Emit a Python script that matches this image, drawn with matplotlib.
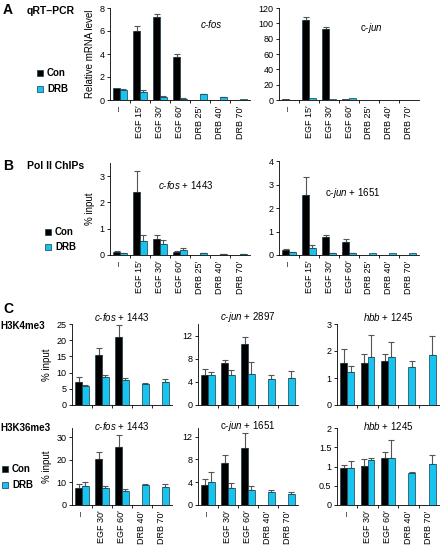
import numpy as np
import matplotlib
matplotlib.use("Agg")
import matplotlib.pyplot as plt
from matplotlib.patches import Rectangle

plt.rcParams["font.family"] = ["Liberation Sans", "DejaVu Sans"]
plt.rcParams["mathtext.fontset"] = "custom"
plt.rcParams["mathtext.it"] = "Liberation Sans:italic"
plt.rcParams["mathtext.rm"] = "Liberation Sans"
plt.rcParams["font.size"] = 6.5

# Data
mrna_labels = ["\u2013", "EGF 15\u2032", "EGF 30\u2032", "EGF 60\u2032", "DRB 25\u2032", "DRB 40\u2032", "DRB 70\u2032"]
hist_labels = ["\u2013", "EGF 30\u2032", "EGF 60\u2032", "DRB 40\u2032", "DRB 70\u2032"]

# A: qRT-PCR
fos_mrna_con = [1.05, 6.0, 7.25, 3.75, None, None, None]
fos_mrna_con_err = [0.0, 0.45, 0.2, 0.25, 0, 0, 0]
fos_mrna_drb = [0.85, 0.7, 0.3, 0.12, 0.5, 0.25, 0.08]
fos_mrna_drb_err = [0.15, 0.15, 0.03, 0.02, 0.05, 0.02, 0.0]

jun_mrna_con = [1.0, 105, 93, 1.0, None, None, None]
jun_mrna_con_err = [0, 3, 2, 0, 0, 0, 0]
jun_mrna_drb = [0.6, 2.0, 1.0, 2.0, 0.3, 0.3, 0.3]
jun_mrna_drb_err = [0, 0, 0, 0, 0, 0, 0]

# B: Pol II ChIPs
fos_pol_con = [0.13, 2.4, 0.6, 0.13, None, None, None]
fos_pol_con_err = [0.02, 0.8, 0.15, 0.02, 0, 0, 0]
fos_pol_drb = [0.08, 0.55, 0.4, 0.2, 0.06, 0.04, 0.04]
fos_pol_drb_err = [0.01, 0.2, 0.17, 0.06, 0.01, 0.01, 0.01]

jun_pol_con = [0.2, 2.55, 0.75, 0.57, None, None, None]
jun_pol_con_err = [0.05, 0.75, 0.12, 0.1, 0, 0, 0]
jun_pol_drb = [0.12, 0.3, 0.08, 0.08, 0.07, 0.08, 0.08]
jun_pol_drb_err = [0.01, 0.13, 0.01, 0.01, 0, 0, 0]

# C: H3K4me3
fos_k4_con = [7.0, 15.5, 21.0, None, None]
fos_k4_con_err = [1.5, 2.0, 3.8, 0, 0]
fos_k4_drb = [6.0, 8.5, 7.7, 6.5, 7.0]
fos_k4_drb_err = [0.2, 0.8, 0.6, 0.2, 1.0]

jun_k4_con = [5.1, 7.3, 10.6, None, None]
jun_k4_con_err = [1.2, 0.4, 1.2, 0, 0]
jun_k4_drb = [5.2, 5.1, 5.3, 4.5, 4.7]
jun_k4_drb_err = [0.5, 1.0, 2.2, 0.6, 1.1]

hbb_k4_con = [1.54, 1.54, 1.63, None, None]
hbb_k4_con_err = [0.52, 0.35, 0.27, 0, 0]
hbb_k4_drb = [1.23, 1.79, 1.77, 1.42, 1.85]
hbb_k4_drb_err = [0.23, 0.81, 0.57, 0.22, 0.72]

# C: H3K36me3
fos_k36_con = [7.6, 20.2, 25.4, None, None]
fos_k36_con_err = [1.5, 3.3, 5.3, 0, 0]
fos_k36_drb = [8.4, 7.4, 6.2, 8.8, 7.9]
fos_k36_drb_err = [1.7, 1.0, 1.0, 0.3, 1.5]

jun_k36_con = [3.5, 7.4, 10.0, None, None]
jun_k36_con_err = [1.1, 1.3, 2.6, 0, 0]
jun_k36_drb = [4.1, 2.9, 2.6, 2.3, 1.9]
jun_k36_drb_err = [1.7, 1.0, 0.8, 0.4, 0.4]

hbb_k36_con = [0.96, 1.02, 1.23, None, None]
hbb_k36_con_err = [0.07, 0.17, 0.14, 0, 0]
hbb_k36_drb = [0.97, 1.16, 1.23, 0.83, 1.06]
hbb_k36_drb_err = [0.17, 0.05, 0.46, 0.04, 0.24]

CON_COLOR = "#000000"
DRB_COLOR = "#17C4EF"
EDGE = "#1a3a48"
ERR = "#555555"

W, H = 443, 546


def add_ax(fig, x0, x1, y0, y1):
    """Axes from pixel box (x0..x1, top y0..bottom y1)."""
    return fig.add_axes([x0 / W, 1 - y1 / H, (x1 - x0) / W, (y1 - y0) / H])


def draw_bars(ax, labels, con, con_err, drb, drb_err, ylim, yticks, show_labels=True,
              fmt=None):
    n = len(labels)
    x = np.arange(n)
    bw = 0.33
    for vals, errs, off, color in [(con, con_err, -bw / 2, CON_COLOR),
                                   (drb, drb_err, bw / 2, DRB_COLOR)]:
        idx = [i for i, v in enumerate(vals) if v is not None]
        xs = x[idx] + off
        hs = np.array([vals[i] for i in idx])
        es = np.array([errs[i] for i in idx])
        ax.bar(xs, hs, width=bw, color=color, edgecolor=EDGE, linewidth=0.5, zorder=2)
        m = es > 0
        if m.any():
            ax.errorbar(xs[m], hs[m], yerr=[np.zeros(m.sum()), es[m]], fmt="none",
                        ecolor=ERR, elinewidth=0.8, capsize=2, capthick=0.8, zorder=1)
    ax.set_xlim(-0.5, n - 0.5)
    ax.set_ylim(*ylim)
    ax.set_yticks(yticks)
    if fmt:
        ax.set_yticklabels([fmt % t for t in yticks])
    ax.spines["top"].set_visible(False)
    ax.spines["right"].set_visible(False)
    ax.spines["left"].set_linewidth(0.6)
    ax.spines["bottom"].set_linewidth(0.6)
    ax.set_xticks(x)
    ax.set_xticks(np.arange(n - 1) + 0.5, minor=True)
    ax.tick_params(axis="x", which="major", length=0, pad=4)
    ax.tick_params(axis="x", which="minor", length=2.5, width=0.6)
    ax.tick_params(axis="y", length=2.5, width=0.6, pad=1.5, labelsize=6.5)
    if show_labels:
        ax.set_xticklabels(labels, rotation=90, fontsize=6.5)
    else:
        ax.set_xticklabels([])


def legend(fig, x, y, dy=16):
    for i, (lab, col) in enumerate([("Con", CON_COLOR), ("DRB", DRB_COLOR)]):
        yy = y + i * dy
        fig.add_artist(Rectangle(((x - 3) / W, 1 - (yy + 3) / H), 6 / W, 6 / H,
                                 transform=fig.transFigure, facecolor=col,
                                 edgecolor=EDGE, linewidth=0.5))
        fig.text((x + 7) / W, 1 - yy / H, lab, fontsize=7, fontweight="bold",
                 va="center", ha="left")


def main():
    fig = plt.figure(figsize=(W / 100, H / 100), dpi=100)

    # Panel A
    fig.text(3 / W, 1 - 10 / H, "A", fontsize=10, fontweight="bold", va="center")
    fig.text(27 / W, 1 - 11 / H, "qRT\u2013PCR", fontsize=7.5, fontweight="bold", va="center")
    ax = add_ax(fig, 110, 250, 8, 100)
    draw_bars(ax, mrna_labels, fos_mrna_con, fos_mrna_con_err, fos_mrna_drb, fos_mrna_drb_err,
              (0, 8), [0, 2, 4, 6, 8])
    ax.set_ylabel("Relative mRNA level", fontsize=7, labelpad=3)
    ax.text(0.72, 0.82, "c-fos", transform=ax.transAxes,
            fontsize=7, ha="center", va="center", fontstyle="italic")
    ax = add_ax(fig, 279, 419, 8, 100)
    draw_bars(ax, mrna_labels, jun_mrna_con, jun_mrna_con_err, jun_mrna_drb, jun_mrna_drb_err,
              (0, 120), [0, 20, 40, 60, 80, 100, 120])
    ax.text(0.66, 0.78, r"c-$\mathit{jun}$", transform=ax.transAxes,
            fontsize=7, ha="center", va="center")
    legend(fig, 40, 73)

    # Panel B
    fig.text(3 / W, 1 - 166 / H, "B", fontsize=10, fontweight="bold", va="center")
    fig.text(27 / W, 1 - 166 / H, "Pol II ChIPs", fontsize=7.5, fontweight="bold", va="center")
    ax = add_ax(fig, 110, 250, 163, 255)
    draw_bars(ax, mrna_labels, fos_pol_con, fos_pol_con_err, fos_pol_drb, fos_pol_drb_err,
              (0, 3.5), [0, 1, 2, 3])
    ax.set_ylabel("% input", fontsize=7, labelpad=3)
    ax.text(0.54, 0.76, r"$\mathit{c}$-$\mathit{fos}$ + 1443", transform=ax.transAxes,
            fontsize=7, ha="center", va="center")
    ax = add_ax(fig, 279, 419, 161, 255)
    draw_bars(ax, mrna_labels, jun_pol_con, jun_pol_con_err, jun_pol_drb, jun_pol_drb_err,
              (0, 4), [0, 1, 2, 3, 4])
    ax.text(0.53, 0.66, r"c-$\mathit{jun}$ + 1651", transform=ax.transAxes,
            fontsize=7, ha="center", va="center")
    legend(fig, 48, 232, dy=15)

    # Panel C
    fig.text(3 / W, 1 - 309 / H, "C", fontsize=10, fontweight="bold", va="center")
    fig.text(0 / W, 1 - 326 / H, "H3K4me3", fontsize=7, fontweight="bold", va="center")
    fig.text(0 / W, 1 - 428 / H, "H3K36me3", fontsize=7, fontweight="bold", va="center")

    rows = [
        (324, 405, False, [
            (72, 172, fos_k4_con, fos_k4_con_err, fos_k4_drb, fos_k4_drb_err,
             (0, 25), [0, 5, 10, 15, 20, 25], None, r"$\mathit{c}$-$\mathit{fos}$ + 1443"),
            (198, 298, jun_k4_con, jun_k4_con_err, jun_k4_drb, jun_k4_drb_err,
             (0, 14), [0, 4, 8, 12], None, r"$\mathit{c}$-$\mathit{jun}$ + 2897"),
            (337, 439, hbb_k4_con, hbb_k4_con_err, hbb_k4_drb, hbb_k4_drb_err,
             (0, 3), [0, 1, 2, 3], None, r"$\mathit{hbb}$ + $\mathit{1245}$"),
        ], 317),
        (428, 505, True, [
            (72, 172, fos_k36_con, fos_k36_con_err, fos_k36_drb, fos_k36_drb_err,
             (0, 34), [0, 10, 20, 30], None, r"$\mathit{c}$-$\mathit{fos}$ + 1443"),
            (198, 298, jun_k36_con, jun_k36_con_err, jun_k36_drb, jun_k36_drb_err,
             (0, 13.5), [0, 4, 8, 12], None, r"c-$\mathit{jun}$ + 1651"),
            (337, 439, hbb_k36_con, hbb_k36_con_err, hbb_k36_drb, hbb_k36_drb_err,
             (0, 2), [0, 0.5, 1, 1.5, 2], "%g", r"$\mathit{hbb}$ + $\mathit{1245}$"),
        ], 426),
    ]
    for y0, y1, show, panels, ty in rows:
        for j, (x0, x1, con, ce, drb, de, ylim, yt, fmt, title) in enumerate(panels):
            ax = add_ax(fig, x0, x1, y0, y1)
            draw_bars(ax, hist_labels, con, ce, drb, de, ylim, yt, show_labels=show, fmt=fmt)
            if j == 0:
                ax.set_ylabel("% input", fontsize=7, labelpad=3)
            fig.text((x0 + x1) / 2 / W, 1 - ty / H, title, fontsize=7,
                     ha="center", va="center")
    legend(fig, 5, 469)

    fig.savefig("out.png", dpi=100)


if __name__ == "__main__":
    main()
